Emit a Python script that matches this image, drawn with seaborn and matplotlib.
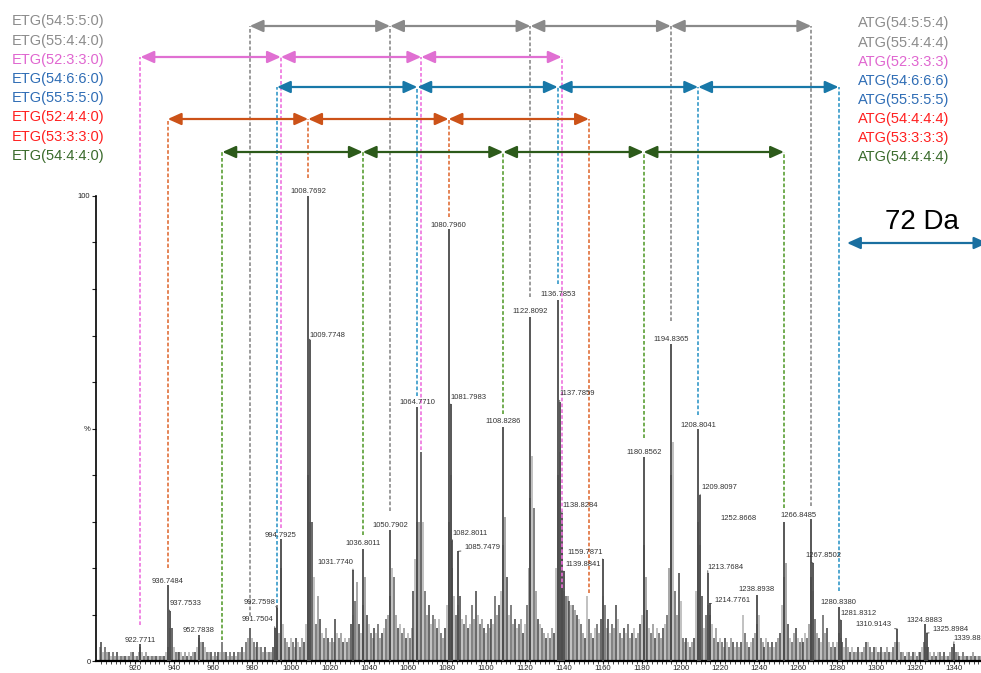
import numpy as np
import pandas as pd
import matplotlib
matplotlib.use("Agg")
import matplotlib.pyplot as plt
import seaborn as sns

# ---------------- data ----------------
# labelled peaks
peak_mz = [922.7711, 936.7484, 937.7533, 952.7838, 991.7504, 992.7598, 994.7925,
           1008.7692, 1009.7748, 1031.7740, 1036.8011, 1050.7902, 1064.7710,
           1080.7960, 1081.7983, 1082.8011, 1085.7479, 1108.8286, 1122.8092,
           1136.7853, 1137.7859, 1138.8284, 1139.8841, 1159.7871, 1180.8562,
           1194.8365, 1208.8041, 1209.8097, 1213.7684, 1214.7761, 1238.8938,
           1252.8668, 1266.8485, 1267.8502, 1280.8380, 1281.8312, 1310.9143,
           1324.8883, 1325.8984, 1339.88]
peak_labels = ["922.7711", "936.7484", "937.7533", "952.7838", "991.7504", "992.7598",
               "994.7925", "1008.7692", "1009.7748", "1031.7740", "1036.8011",
               "1050.7902", "1064.7710", "1080.7960", "1081.7983", "1082.8011",
               "1085.7479", "1108.8286", "1122.8092", "1136.7853", "1137.7859",
               "1138.8284", "1139.8841", "1159.7871", "1180.8562", "1194.8365",
               "1208.8041", "1209.8097", "1213.7684", "1214.7761", "1238.8938",
               "1252.8668", "1266.8485", "1267.8502", "1280.8380", "1281.8312",
               "1310.9143", "1324.8883", "1325.8984", "1339.88"]
peak_int = [3.6, 16.3, 10.7, 5.6, 7.1, 11.4, 26.2, 100, 69.1, 19.5, 24.0, 28.1, 54.7,
            92.9, 55.2, 25.8, 23.6, 50.4, 74.0, 77.7, 55.8, 31.8, 19.3, 21.9, 43.8,
            68.2, 49.8, 35.8, 18.9, 12.4, 14.2, 30.0, 30.5, 21.0, 11.6, 8.8, 6.9,
            7.9, 6.0, 3.6]

# unlabelled background peaks, one value per nominal mass
bg_901_1000 = [3, 4, 2, 3, 2, 2, 1, 2, 1, 2,
               1, 1, 1, 1, 1, 1, 2, 2, 1, 1,
               2, 3, 2, 1, 2, 1, 1, 1, 1, 1,
               1, 1, 1, 1, 2, 3, 7, 7, 3, 2,
               2, 2, 2, 1, 2, 1, 2, 1, 2, 2,
               3, 5, 4, 4, 3, 2, 2, 2, 1, 2,
               1, 2, 2, 4, 2, 2, 1, 2, 1, 2,
               1, 2, 2, 3, 2, 4, 5, 7, 5, 4,
               3, 4, 3, 3, 2, 3, 2, 2, 2, 3,
               7, 12, 6, 20, 8, 5, 4, 3, 5, 4]
bg_1001_1100 = [3, 5, 4, 3, 5, 4, 8, 40, 30, 30,
                18, 8, 14, 9, 6, 5, 7, 5, 4, 5,
                4, 9, 6, 5, 6, 4, 5, 4, 5, 8,
                10, 13, 17, 8, 6, 12, 18, 10, 8, 6,
                5, 7, 6, 8, 5, 6, 7, 9, 10, 14,
                20, 18, 10, 7, 8, 6, 7, 5, 6, 5,
                7, 15, 22, 30, 30, 45, 30, 15, 10, 12,
                8, 10, 9, 7, 9, 6, 5, 7, 12, 30,
                40, 20, 14, 10, 12, 14, 9, 8, 10, 7,
                8, 12, 9, 15, 10, 8, 9, 7, 6, 8]
bg_1101_1200 = [7, 9, 8, 14, 10, 12, 15, 25, 31, 18,
                10, 12, 8, 9, 7, 8, 9, 6, 8, 12,
                20, 35, 44, 33, 15, 9, 8, 7, 6, 5,
                6, 5, 7, 6, 20, 40, 45, 25, 15, 14,
                14, 13, 12, 12, 11, 10, 9, 8, 6, 5,
                14, 9, 6, 5, 7, 8, 6, 9, 14, 12,
                7, 9, 6, 8, 7, 12, 9, 6, 5, 7,
                6, 8, 5, 6, 7, 5, 6, 8, 10, 25,
                18, 11, 7, 6, 8, 5, 7, 6, 5, 7,
                8, 10, 20, 40, 47, 15, 10, 19, 13, 5]
bg_1201_1300 = [4, 5, 4, 3, 4, 5, 15, 30, 25, 14,
                7, 10, 12, 10, 8, 5, 7, 4, 5, 4,
                3, 5, 4, 3, 5, 4, 3, 4, 3, 4,
                10, 6, 4, 3, 4, 5, 6, 8, 10, 5,
                4, 3, 5, 4, 3, 4, 3, 4, 5, 6,
                12, 18, 21, 8, 5, 4, 6, 7, 5, 4,
                5, 4, 6, 5, 8, 18, 15, 9, 6, 5,
                4, 10, 6, 7, 4, 3, 4, 3, 4, 6,
                5, 4, 3, 5, 3, 2, 3, 2, 2, 3,
                2, 2, 3, 4, 4, 3, 2, 3, 3, 2]
bg_1301_1353 = [2, 3, 2, 2, 3, 2, 2, 3, 4, 4,
                4, 2, 2, 1, 2, 2, 1, 2, 2, 1,
                2, 2, 3, 4, 3, 3, 2, 1, 2, 1,
                2, 2, 1, 2, 1, 1, 2, 3, 3, 2,
                2, 1, 1, 2, 1, 1, 1, 1, 2, 1,
                1, 1, 1]
bg_first_nominal = 901
mass_defect = 0.8

# ion series (72 Da ladders): vertices in m/z and bottom of the dashed drop lines (%)
series_names = ["gray", "pink", "blue", "orange", "green"]
gray_mz = [978.8, 1050.8, 1122.8, 1194.8, 1266.8]
gray_end = [9.7, 32.2, 78.3, 73.2, 33.3]
pink_mz = [922.8, 994.8, 1066.8, 1138.8]
pink_end = [7.7, 28.5, 45.3, 15.7]
blue_mz = [992.8, 1064.8, 1136.8, 1208.8, 1280.8]
blue_end = [12.4, 56.9, 81.1, 52.8, 15.0]
orange_mz = [936.8, 1008.8, 1080.8, 1152.8]
orange_end = [20.0, 103.9, 95.5, 14.6]
green_mz = [964.8, 1036.8, 1108.8, 1180.8, 1252.8]
green_end = [4.5, 27.0, 53.2, 47.9, 32.8]

etg_labels = ["ETG(54:5:5:0)", "ETG(55:4:4:0)", "ETG(52:3:3:0)", "ETG(54:6:6:0)",
              "ETG(55:5:5:0)", "ETG(52:4:4:0)", "ETG(53:3:3:0)", "ETG(54:4:4:0)"]
atg_labels = ["ATG(54:5:5:4)", "ATG(55:4:4:4)", "ATG(52:3:3:3)", "ATG(54:6:6:6)",
              "ATG(55:5:5:5)", "ATG(54:4:4:4)", "ATG(53:3:3:3)", "ATG(54:4:4:4)"]
shift_da = 72
shift_label = "72 Da"

# ---------------- style / layout ----------------
sns.set_theme(style="white")
plt.rcParams['font.family'] = ['Liberation Sans', 'DejaVu Sans']

W, H = 981, 673
BASE = 661          # pixel row of the 0 % baseline
PX_PER_DA = 1.95
PX_PER_PCT = 4.65
fig = plt.figure(figsize=(W / 100, H / 100), dpi=100)
fig.patch.set_facecolor("white")
ax = fig.add_axes([96 / W, (H - BASE) / H, 1 - 96 / W, BASE / H])
ax.set_facecolor("white")
ax.set_xlim(900, 900 + 885 / PX_PER_DA)
ax.set_ylim(0, BASE / PX_PER_PCT)


def ypix(py):
    """pixel row (from the top of the reference) -> % units"""
    return (BASE + 1 - py) / PX_PER_PCT


# background sticks
bg_all = bg_901_1000 + bg_1001_1100 + bg_1101_1200 + bg_1201_1300 + bg_1301_1353
bg_mz = [bg_first_nominal + i + mass_defect for i in range(len(bg_all))]
bg = pd.DataFrame({"mz": bg_mz, "int": bg_all})
shades = ["#8f8f8f", "#3f3f3f", "#b0b0b0", "#5e5e5e"]
bg_cols = [shades[i % len(shades)] for i in range(len(bg))]
ax.vlines(bg["mz"], 0, bg["int"], colors=bg_cols, lw=1.1, zorder=2)

pk = pd.DataFrame({"mz": peak_mz, "int": peak_int, "lab": peak_labels})
ax.vlines(pk["mz"], 0, pk["int"], colors="#4a4a4a", lw=1.3, zorder=3)

# peak labels (pixel offsets of label centre from peak top) and leader flags
label_dx = [0, 0, 16, 0, -17, -17, 0, 0, 17, -18, 0, 0, 0, 0, 18, 18, 24, 0, 0, 0,
            18, 19, 19, -17, 0, 0, 0, 19, 18, 23, 0, -46, -13, 10, 0, 18, -24, 0, 24, 14]
label_dy = [4, 4, 8, 4, 8, 5, 4, 4, 4, 8, 6, 5, 4, 4, 7, 8, 4, 5, 5, 5,
            8, 8, 7, 7, 5, 4, 4, 7, 6, 3, 5, 3, 4, 8, 5, 7, 4, 4, 4, 6]
leader = [0, 0, 1, 0, 1, 1, 0, 0, 1, 1, 0, 0, 0, 0, 1, 1, 1, 0, 0, 0,
          1, 1, 1, 1, 0, 0, 0, 1, 1, 1, 0, 0, 0, 1, 0, 1, 1, 0, 1, 1]
for (mz, it, lab), dx, dy, ld in zip(pk[["mz", "int", "lab"]].itertuples(index=False),
                                     label_dx, label_dy, leader):
    kw = {}
    if ld:
        kw["arrowprops"] = dict(arrowstyle="-", lw=0.6, color="#444444", shrinkA=0, shrinkB=0,
                                relpos=(0, 0) if dx > 0 else (1, 0))
    ax.annotate(lab, xy=(mz, it), xytext=(dx * 0.72, dy * 0.72), textcoords="offset points",
                ha="center", va="center", fontsize=5.5, color="#333333", zorder=7, **kw)

# ladders
levels = {"gray": ypix(27), "pink": ypix(58), "blue": ypix(88), "orange": ypix(120),
          "green": ypix(153)}
arrow_cols = {"gray": "#8a8a8a", "pink": "#e070d2", "blue": "#1878a8",
              "orange": "#cc5218", "green": "#2c5a1a"}
dash_cols = {"gray": "#8a8a8a", "pink": "#ee72de", "blue": "#3398c8",
             "orange": "#e0703a", "green": "#5a9e34"}
series = {"gray": (gray_mz, gray_end), "pink": (pink_mz, pink_end), "blue": (blue_mz, blue_end),
          "orange": (orange_mz, orange_end), "green": (green_mz, green_end)}
for name in series_names:
    xs, ends = series[name]
    lvl = levels[name]
    ax.vlines(xs, ends, lvl, colors=dash_cols[name], lw=1.2, linestyles=(0, (2.2, 1.3)), zorder=4)
    for a, b in zip(xs[:-1], xs[1:]):
        ax.annotate("", xy=(b, lvl), xytext=(a, lvl),
                    arrowprops=dict(arrowstyle="<|-|>,head_length=0.8,head_width=0.36",
                                    mutation_scale=10, lw=1.6, color=arrow_cols[name],
                                    shrinkA=0, shrinkB=0), zorder=5)

# 72 Da scale arrow
x72 = 900 + (847 - 96) / PX_PER_DA
y72 = ypix(244)
ax.annotate("", xy=(x72 + shift_da, y72), xytext=(x72, y72), annotation_clip=False,
            arrowprops=dict(arrowstyle="<|-|>,head_length=0.8,head_width=0.36",
                            mutation_scale=10, lw=1.6, color="#1a6fa0", shrinkA=0, shrinkB=0))
fig.text(922 / W, 1 - 222 / H, shift_label, fontsize=20, color="black", ha="center", va="center")

# legend texts
legend_cols = ["#8c8c8c", "#8c8c8c", "#e066d0", "#2f6db5", "#2f6db5", "#ff2020", "#ff2020", "#3a6b2c"]
left_y = [21.5, 40.7, 60, 79, 98.3, 117.3, 136.7, 155.7]
right_y = [23.3, 42.7, 61.7, 81, 100, 119, 138.3, 157.3]
for t, c, yy in zip(etg_labels, legend_cols, left_y):
    fig.text(12 / W, 1 - yy / H, t, fontsize=10.5, color=c, ha="left", va="center")
for t, c, yy in zip(atg_labels, legend_cols, right_y):
    fig.text(858 / W, 1 - yy / H, t, fontsize=10.5, color=c, ha="left", va="center")

# axes
sns.despine(ax=ax, top=True, right=True)
ax.spines["left"].set_bounds(0, 100)
ax.spines["left"].set_color("black")
ax.spines["left"].set_linewidth(1.2)
ax.spines["bottom"].set_color("black")
ax.spines["bottom"].set_linewidth(1.6)
ax.set_yticks(range(0, 101, 10))
ax.set_yticklabels(["0", "", "", "", "", "%", "", "", "", "", "100"], fontsize=5.5)
ax.set_xticks(range(920, 1341, 20))
ax.set_xticklabels([str(v) for v in range(920, 1341, 20)], fontsize=5.6)
ax.set_xticks(np.arange(902.5, 1354, 2.5), minor=True)
ax.tick_params(axis="y", direction="out", length=3, width=0.8, pad=1, left=True, colors="#222222")
ax.tick_params(axis="x", which="major", direction="out", length=2.5, width=0.8, pad=0.3, bottom=True)
ax.tick_params(axis="x", which="minor", direction="out", length=1.8, width=0.6, bottom=True)
ax.grid(False)

fig.savefig("out.png", dpi=100)
